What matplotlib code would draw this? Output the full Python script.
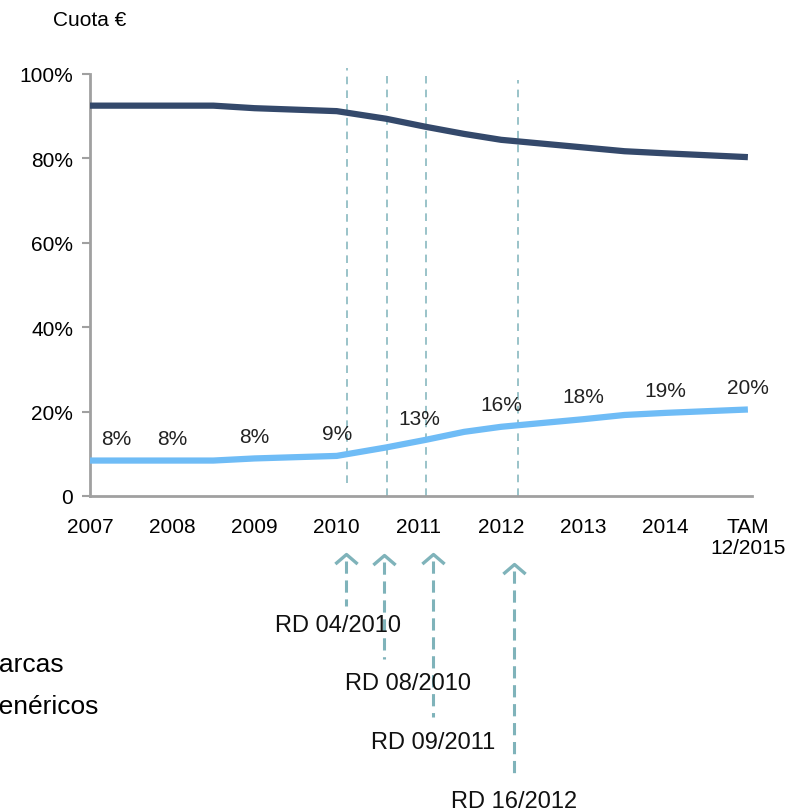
import numpy as np
import matplotlib.pyplot as plt
from matplotlib.path import Path
from matplotlib import transforms

plt.rcParams['font.family'] = ['Liberation Sans', 'DejaVu Sans']

# position on the year axis (0 = 2007, 8 = TAM 12/2015) and share in %
periods = [0, 1, 1.5, 2, 3, 3.6, 4.08, 4.55, 5, 6, 6.5, 7, 8]
marcas = [92.5, 92.5, 92.5, 91.9, 91.2, 89.4, 87.5, 85.8, 84.4, 82.6, 81.7, 81.2, 80.3]
genericos = [8.4, 8.4, 8.4, 8.9, 9.5, 11.5, 13.3, 15.2, 16.4, 18.2, 19.2, 19.7, 20.5]
year_labels = ['2007', '2008', '2009', '2010', '2011', '2012', '2013', '2014', 'TAM\n12/2015']
gen_labels = ['8%', '8%', '8%', '9%', '13%', '16%', '18%', '19%', '20%']

# regulation events (position on year axis)
rd_lines = [3.12, 3.61, 4.08, 5.2]
rd_arrows = [3.11, 3.57, 4.17, 5.155]
rd_names = ['RD 04/2010', 'RD 08/2010', 'RD 09/2011', 'RD 16/2012']

dark = '#34496b'
light = '#6fbcf6'
teal = '#7fb3ba'
grey = '#a0a0a0'

W, H = 806, 812
fig = plt.figure(figsize=(W / 100, H / 100), dpi=100)
ax = fig.add_axes([90 / W, 1 - 497 / H, 662 / W, 422 / H])

ax.plot(periods, np.array(marcas) / 100, color=dark, lw=4.5, solid_capstyle='butt', zorder=3)
ax.plot(periods, np.array(genericos) / 100, color=light, lw=4.5, solid_capstyle='butt', zorder=3)

# data labels on the yearly points
for i, lab in enumerate(gen_labels):
    yv = np.interp(i, periods, genericos) / 100
    dx = 19 if i == 0 else 0
    ax.annotate(lab, (i, yv), xytext=(dx, 16), textcoords='offset points',
                ha='center', va='center', fontsize=15, color='#222222')

# vertical dashed lines
tops = [1.015, 0.995, 0.995, 0.985]
bots = [0.03, 0, 0, 0]
for xv, t, b in zip(rd_lines, tops, bots):
    ax.plot([xv, xv], [b, t], color=teal, lw=1.1, ls=(0, (5, 4)), clip_on=False, zorder=2)

ax.set_xlim(0, 8.05)
ax.set_ylim(0, 1)
ax.set_xticks(range(9))
ax.set_xticklabels(year_labels, fontsize=15, linespacing=1.15, va='top')
ax.set_yticks([0, 0.2, 0.4, 0.6, 0.8, 1.0])
ax.set_yticklabels(['0', '20%', '40%', '60%', '80%', '100%'], fontsize=15)
ax.tick_params(axis='x', length=0, pad=15)
ax.tick_params(axis='y', length=6, width=1.5, color=grey, pad=6)
for s in ['top', 'right']:
    ax.spines[s].set_visible(False)
for s in ['left', 'bottom']:
    ax.spines[s].set_color(grey)
    ax.spines[s].set_linewidth(2)

fig.text(90 / W, 1 - 20 / H, 'Cuota €', ha='center', va='center', fontsize=15)

# arrows under the axis
tr = transforms.blended_transform_factory(ax.transData, fig.transFigure)
chevron = Path([(-1, -0.86), (0, 0), (1, -0.86)], [Path.MOVETO, Path.LINETO, Path.LINETO])
tips = [555, 556, 555, 565]
ends = [607, 660, 718, 777]
label_y = [626, 684, 743, 802]
label_dx = [-0.09, 0.3, 0.0, 0.0]
for xa, tp, en, ly, dx, name in zip(rd_arrows, tips, ends, label_y, label_dx, rd_names):
    ax.plot([xa], [1 - tp / H], marker=chevron, ms=16, mew=2.4, mec=teal, mfc='none',
            transform=tr, clip_on=False)
    ax.plot([xa, xa], [1 - (tp + 7) / H, 1 - en / H], color=teal, lw=2.2,
            dashes=(4, 2.2), transform=tr, clip_on=False)
    ax.text(xa + dx, 1 - ly / H, name, transform=tr, ha='center', va='center', fontsize=17,
            color='#111111', zorder=5)

# legend, cut at the left edge
fig.text(-22 / W, 1 - 665 / H, 'Marcas', ha='left', va='center', fontsize=19)
fig.text(-21 / W, 1 - 707 / H, 'Genéricos', ha='left', va='center', fontsize=19)

fig.savefig('out.png', dpi=100)
